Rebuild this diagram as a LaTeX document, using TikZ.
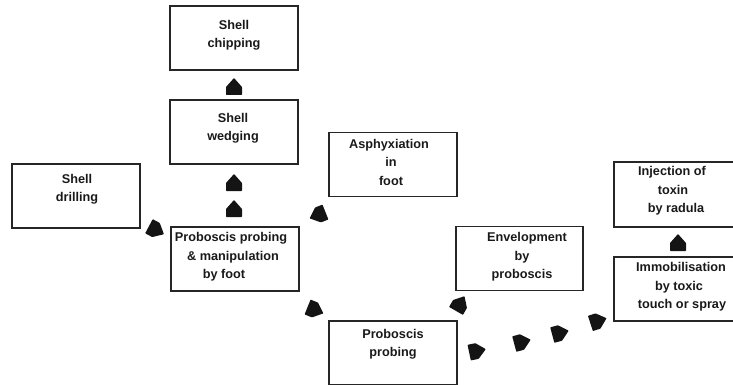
\documentclass[tikz,border=0pt]{standalone}
\usepackage{fontspec}
\setmainfont{Liberation Sans}
\usetikzlibrary{calc}
\begin{document}
\begin{tikzpicture}[x=1pt,y=-1pt,
  box/.style={draw=black!85, line width=1.3pt, minimum width=128pt, minimum height=64pt, inner sep=0pt},
  lbl/.style={inner sep=0pt, align=center, text=black!90, font=\fontsize{12.7}{18.5}\selectfont\bfseries},
  housetip/.pic={\fill[black!92, rounded corners=0.6pt] (-8,8)--(8,8)--(8,0)--(0,-9)--(-8,0)--cycle;}
]
\useasboundingbox (0,0) rectangle (733,385);
\clip (0,0) rectangle (733,385);
% boxes
\node[box] (drill) at (76,196) {};
\node[box] (chip) at (234,38) {};
\node[box] (wedge) at (234,132) {};
\node[box] (ppm) at (235,259) {};
\node[box] (asph) at (393,164.5) {};
\node[box, minimum width=127pt] (env) at (519.5,258.5) {};
\node[box] (pp) at (393,353) {};
\node[box, minimum width=134pt] (immob) at (681,289) {};
\node[box, minimum width=134pt, minimum height=65pt] (inj) at (681,194.5) {};
% labels
\node[lbl] (drillt) at (77,189) {Shell\\drilling};
\node[lbl] (chipt) at (234,35) {Shell\\chipping};
\node[lbl] (wedget) at (233,128) {Shell\\wedging};
\node[lbl] (ppmt) at (231,257) {Proboscis probing\\\hspace*{4pt}\& manipulation\\by foot\hspace*{14pt}};
\node[lbl] (aspht) at (391,162) {Asphyxiation\hspace*{4pt}\\in\\foot};
\node[lbl] (envt) at (522,257) {\hspace*{10pt}Envelopment\\by\\proboscis};
\node[lbl] (pptt) at (393,344) {Proboscis\\probing};
\node[lbl] (immobt) at (679,287) {\hspace*{4pt}Immobilisation\\by toxic\hspace*{10pt}\\\hspace*{6pt}touch or spray};
\node[lbl] (injt) at (673,191) {Injection of\hspace*{2pt}\\toxin\\\hspace*{6pt}by radula};
% arrowheads
\pic at ($(chip.south)!0.5!(wedge.north)+(0,2)$) {housetip};
\pic at (234,183) {housetip};
\pic at (234,209) {housetip};
\pic[rotate=-118] at (156,230) {housetip};
\pic[rotate=112] at (318,215) {housetip};
\pic[rotate=-112] at (315,310) {housetip};
\pic[rotate=-30] at (460,304) {housetip};
\pic[rotate=-78] at (477,351) {housetip};
\pic[rotate=-75] at (522,342) {housetip};
\pic[rotate=-75] at (560,333) {housetip};
\pic[rotate=-72] at (598,321) {housetip};
\pic at ($(immob.north)!0.5!(inj.south)+(-3,1)$) {housetip};
\end{tikzpicture}
\end{document}
